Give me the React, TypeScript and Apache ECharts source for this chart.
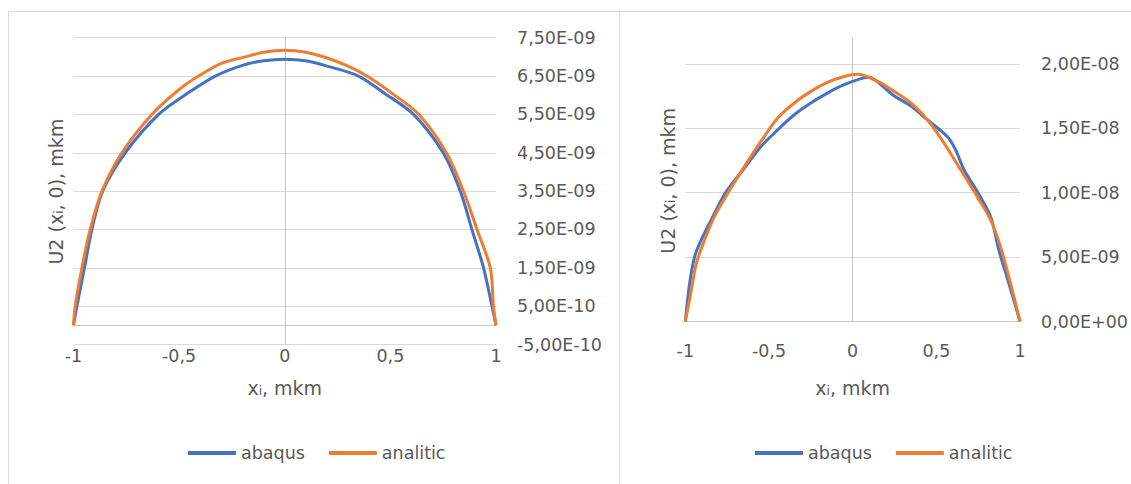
import React, { useEffect, useRef } from 'react';
import * as echarts from 'echarts';

// ---------- data ----------
const seriesNames = ['abaqus', 'analitic'];

// left chart
const leftAbaqusX = [-1, -0.984, -0.948, -0.913, -0.862, -0.755, -0.597, -0.46, -0.329, -0.2, -0.1, 0, 0.1, 0.2, 0.349, 0.48, 0.61, 0.75, 0.831, 0.886, 0.941, 0.981, 1];
const leftAbaqusY = [0, 0.5e-9, 1.5e-9, 2.5e-9, 3.5e-9, 4.5e-9, 5.5e-9, 6.05e-9, 6.5e-9, 6.78e-9, 6.9e-9, 6.94e-9, 6.9e-9, 6.76e-9, 6.5e-9, 6.02e-9, 5.5e-9, 4.5e-9, 3.5e-9, 2.5e-9, 1.5e-9, 0.5e-9, 0];
const leftAnaliticX = [-1, -0.992, -0.96, -0.921, -0.865, -0.771, -0.629, -0.5, -0.408, -0.3, -0.187, -0.1, 0, 0.1, 0.2, 0.3, 0.389, 0.5, 0.635, 0.765, 0.846, 0.91, 0.973, 0.988, 1];
const leftAnaliticY = [0, 0.5e-9, 1.5e-9, 2.5e-9, 3.5e-9, 4.5e-9, 5.5e-9, 6.15e-9, 6.5e-9, 6.83e-9, 7.0e-9, 7.12e-9, 7.17e-9, 7.12e-9, 6.97e-9, 6.76e-9, 6.5e-9, 6.08e-9, 5.5e-9, 4.5e-9, 3.5e-9, 2.5e-9, 1.5e-9, 0.5e-9, 0];

// right chart
const rightAbaqusX = [-1, -0.974, -0.944, -0.905, -0.845, -0.76, -0.647, -0.548, -0.448, -0.349, -0.25, -0.151, -0.051, 0.05, 0.1, 0.169, 0.238, 0.348, 0.446, 0.565, 0.615, 0.665, 0.744, 0.824, 0.873, 0.933, 1];
const rightAbaqusY = [0, 2.98e-9, 5.05e-9, 6.34e-9, 7.9e-9, 10.0e-9, 11.91e-9, 13.59e-9, 14.88e-9, 16.05e-9, 16.96e-9, 17.73e-9, 18.38e-9, 18.85e-9, 18.95e-9, 18.38e-9, 17.6e-9, 16.72e-9, 15.66e-9, 14.36e-9, 13.33e-9, 11.78e-9, 10.09e-9, 8.15e-9, 5.57e-9, 2.98e-9, 0];
const rightAnaliticX = [-1, -0.964, -0.934, -0.885, -0.826, -0.746, -0.647, -0.548, -0.448, -0.349, -0.25, -0.151, -0.051, 0.03, 0.149, 0.248, 0.348, 0.446, 0.546, 0.645, 0.744, 0.824, 0.883, 0.943, 1];
const rightAnaliticY = [0, 2.46e-9, 4.53e-9, 6.34e-9, 8.15e-9, 9.97e-9, 12.03e-9, 13.98e-9, 15.79e-9, 16.96e-9, 17.86e-9, 18.56e-9, 19.02e-9, 19.18e-9, 18.63e-9, 17.86e-9, 16.96e-9, 15.66e-9, 13.85e-9, 11.78e-9, 9.7e-9, 7.9e-9, 5.82e-9, 2.98e-9, 0];

// axes
const xMin = -1;
const xMax = 1;
const xStep = 0.5;
const leftYMin = -5e-10;
const leftYMax = 7.5e-9;
const leftYStep = 1e-9;
const rightYMin = 0;
const rightYMax = 2.2e-8;
const rightYStep = 5e-9;

// ---------- styles ----------
const FONT = "'DejaVu Sans', sans-serif";
const TEXT = '#595959';
const GRID = '#d9d9d9';
const AXIS = '#c6c6c6';
const BLUE = '#4472c4';
const ORANGE = '#ed7d31';

const pairs = (xs: number[], ys: number[]) => xs.map((x, i) => [x, ys[i]]);

const fmtSci = (v: number) => {
  if (Math.abs(v) < 1e-20) return '0,00E+00';
  let e = Math.floor(Math.log10(Math.abs(v)));
  let m = v / Math.pow(10, e);
  if (Math.abs(m) >= 9.995) {
    m /= 10;
    e += 1;
  }
  const ms = m.toFixed(2).replace('.', ',');
  const es = (e < 0 ? '-' : '+') + String(Math.abs(e)).padStart(2, '0');
  return ms + 'E' + es;
};

const fmtX = (v: number) => String(v).replace('.', ',');

const richTitle = (size: number) => ({
  a: { fontSize: size, fontFamily: FONT, color: TEXT },
  s: { fontSize: 12, fontFamily: FONT, color: TEXT, verticalAlign: 'bottom', lineHeight: 8 },
});

const makeXAxis = (gridIndex: number, showLine: boolean, labelMargin: number, nameGap: number) => ({
  gridIndex,
  type: 'value',
  min: xMin,
  max: xMax,
  interval: xStep,
  axisLine: { show: showLine, onZero: false, lineStyle: { color: AXIS, width: 1 } },
  axisTick: { show: false },
  splitLine: { show: false },
  axisLabel: { margin: labelMargin, color: TEXT, fontSize: 17.5, fontFamily: FONT, formatter: fmtX },
  name: '{a|x}{s|i}{a|, mkm}',
  nameLocation: 'middle',
  nameGap,
  nameTextStyle: { color: TEXT, fontSize: 19, fontFamily: FONT, rich: richTitle(19) },
});

const zeroLines = (withHorizontal: boolean) => ({
  silent: true,
  z: 1,
  symbol: ['none', 'none'],
  label: { show: false },
  emphasis: { disabled: true },
  lineStyle: { color: AXIS, width: 1, type: 'solid' },
  data: withHorizontal ? [{ xAxis: 0 }, { yAxis: 0 }] : [{ xAxis: 0 }],
});

const lineSeries = (name: string, color: string, idx: number, data: number[][], markLine?: any) => ({
  name,
  type: 'line',
  xAxisIndex: idx,
  yAxisIndex: idx,
  data,
  showSymbol: false,
  symbol: 'none',
  smooth: 0.3,
  lineStyle: { color, width: 3 },
  itemStyle: { color },
  z: 3,
  ...(markLine ? { markLine } : {}),
});

const legendCfg = (left: number) => ({
  data: seriesNames,
  left,
  top: 444,
  padding: 0,
  icon: 'rect',
  itemWidth: 48,
  itemHeight: 4,
  itemGap: 24,
  selectedMode: false,
  textStyle: { color: TEXT, fontSize: 17.5, fontFamily: FONT },
});

const yTitle = (x: number, y: number) => ({
  type: 'text',
  x,
  y,
  rotation: Math.PI / 2,
  silent: true,
  style: {
    text: '{a|U2 (x}{s|i}{a|, 0), mkm}',
    rich: richTitle(19),
    fontSize: 19,
    fontFamily: FONT,
    fill: TEXT,
    align: 'center',
    verticalAlign: 'middle',
  },
});

export default function App() {
  const ref = useRef<HTMLDivElement>(null);

  useEffect(() => {
    if (!ref.current) return;
    const chart = echarts.init(ref.current, undefined, { renderer: 'svg' });
    chart.setOption({
      animation: false,
      backgroundColor: '#ffffff',
      textStyle: { fontFamily: FONT },
      grid: [
        { left: 73.5, right: 635, top: 37.7, bottom: 139.5 },
        { left: 685.3, right: 109.7, top: 38, bottom: 162.3 },
      ],
      xAxis: [makeXAxis(0, false, 2, 33.7), makeXAxis(1, true, 20, 56.5)],
      yAxis: [
        {
          gridIndex: 0,
          type: 'value',
          position: 'right',
          min: leftYMin,
          max: leftYMax,
          interval: leftYStep,
          axisLine: { show: false },
          axisTick: { show: false },
          axisLabel: { margin: 21, color: TEXT, fontSize: 17.5, fontFamily: FONT, formatter: fmtSci },
          splitLine: { show: true, lineStyle: { color: GRID, width: 1 } },
        },
        {
          gridIndex: 1,
          type: 'value',
          position: 'right',
          min: rightYMin,
          max: rightYMax,
          interval: rightYStep,
          axisLine: { show: false },
          axisTick: { show: false },
          axisLabel: {
            margin: 21,
            color: TEXT,
            fontSize: 17.5,
            fontFamily: FONT,
            showMaxLabel: false,
            formatter: (v: number) => {
              const k = v / rightYStep;
              return Math.abs(k - Math.round(k)) < 1e-6 ? fmtSci(v) : '';
            },
          },
          splitLine: { show: true, showMaxLine: false, lineStyle: { color: GRID, width: 1 } },
        },
      ],
      legend: [legendCfg(188), legendCfg(755)],
      graphic: [
        { type: 'rect', silent: true, z: -10, shape: { x: 8.5, y: 11.5, width: 611, height: 490 }, style: { fill: 'none', stroke: GRID, lineWidth: 1 } },
        { type: 'rect', silent: true, z: -10, shape: { x: 619.5, y: 11.5, width: 520, height: 490 }, style: { fill: 'none', stroke: GRID, lineWidth: 1 } },
        yTitle(55.5, 191.7),
        yTitle(667.6, 180.8),
      ],
      series: [
        lineSeries('abaqus', BLUE, 0, pairs(leftAbaqusX, leftAbaqusY), zeroLines(true)),
        lineSeries('analitic', ORANGE, 0, pairs(leftAnaliticX, leftAnaliticY)),
        lineSeries('abaqus', BLUE, 1, pairs(rightAbaqusX, rightAbaqusY), zeroLines(false)),
        lineSeries('analitic', ORANGE, 1, pairs(rightAnaliticX, rightAnaliticY)),
      ],
    });
    return () => chart.dispose();
  }, []);

  return (
    <div
      ref={ref}
      style={{ position: 'fixed', left: 0, top: 0, width: 1131, height: 484, background: '#fff' }}
    />
  );
}
